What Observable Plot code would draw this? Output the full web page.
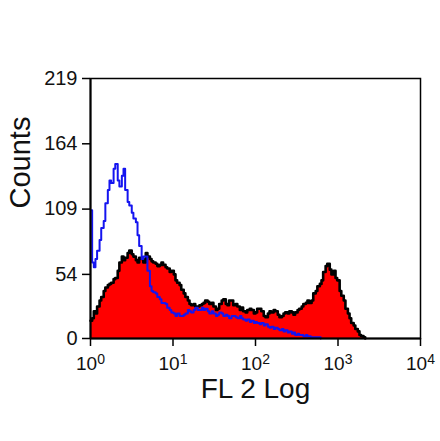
<!DOCTYPE html>
<html>
<head>
<meta charset="utf-8">
<script src="https://cdn.jsdelivr.net/npm/d3@7"></script>
<script src="https://cdn.jsdelivr.net/npm/@observablehq/plot@0.6"></script>
<style>
  html, body { margin: 0; padding: 0; background: #fff; }
  #chart { width: 440px; height: 441px; }
</style>
</head>
<body>
<div id="chart"></div>
<script>
// x in decades (log10 of FL 2), y in counts
const redX = [0.00,0.02,0.04,0.06,0.08,0.11,0.13,0.16,0.18,0.21,0.23,0.25,0.28,0.30,0.33,0.35,0.38,0.40,0.42,0.45,0.47,0.50,0.52,0.55,0.57,0.59,0.62,0.64,0.67,0.69,0.72,0.74,0.76,0.79,0.81,0.84,0.86,0.88,0.91,0.93,0.96,0.98,1.01,1.03,1.05,1.08,1.10,1.13,1.15,1.18,1.20,1.22,1.25,1.27,1.30,1.32,1.35,1.37,1.39,1.42,1.44,1.47,1.49,1.52,1.54,1.56,1.59,1.61,1.64,1.66,1.68,1.71,1.73,1.76,1.78,1.81,1.83,1.85,1.88,1.90,1.93,1.95,1.98,2.00,2.02,2.05,2.07,2.10,2.12,2.15,2.17,2.19,2.22,2.24,2.27,2.29,2.32,2.34,2.36,2.39,2.41,2.44,2.46,2.48,2.51,2.53,2.56,2.58,2.61,2.63,2.65,2.68,2.70,2.73,2.75,2.78,2.80,2.82,2.85,2.87,2.90,2.92,2.95,2.97,2.99,3.02,3.04,3.07,3.09,3.12,3.14,3.16,3.19,3.21,3.24,3.26,3.28,3.31,3.33];
const redY = [15,17,23,21,27,32,35,40,43,45,46,47,50,51,57,64,69,66,68,72,74,71,69,66,64,68,67,64,72,69,67,65,64,63,61,62,64,62,60,59,56,57,54,49,47,45,41,38,35,32,29,28,29,27,27,28,29,30,32,31,29,30,27,24,25,29,32,33,29,28,32,32,28,29,27,24,26,23,22,24,25,24,21,22,25,25,23,19,18,21,23,22,24,23,20,18,19,21,22,21,23,22,20,22,24,25,27,29,30,32,30,32,38,40,44,46,49,56,61,63,58,54,57,51,49,40,36,32,25,21,17,13,11,8,6,3,2,1,0];

const blueX = [0.01,0.02,0.04,0.06,0.08,0.11,0.13,0.16,0.18,0.21,0.23,0.25,0.28,0.30,0.33,0.35,0.38,0.40,0.42,0.45,0.47,0.50,0.52,0.55,0.57,0.59,0.62,0.64,0.67,0.69,0.72,0.74,0.76,0.79,0.81,0.84,0.86,0.88,0.91,0.93,0.96,0.98,1.01,1.03,1.05,1.08,1.10,1.13,1.15,1.18,1.20,1.22,1.25,1.27,1.30,1.32,1.35,1.37,1.39,1.42,1.44,1.47,1.49,1.52,1.54,1.56,1.59,1.61,1.64,1.66,1.68,1.71,1.73,1.76,1.78,1.81,1.83,1.85,1.88,1.90,1.93,1.95,1.98,2.00,2.02,2.05,2.07,2.10,2.12,2.15,2.17,2.19,2.22,2.24,2.27,2.29,2.32,2.34,2.36,2.39,2.41,2.44,2.46,2.48,2.51,2.53,2.56,2.58,2.61,2.63,2.67,2.73,2.79];
const blueY = [108,64,60,67,74,83,93,99,114,125,133,131,143,147,133,128,137,143,125,115,112,106,101,98,87,78,67,69,69,57,44,40,39,38,35,33,30,30,29,26,24,22,21,19,21,19,19,20,21,24,23,22,24,26,24,24,26,24,25,23,21,23,21,19,20,22,21,19,20,19,17,19,19,18,17,19,17,16,15,16,14,15,13,14,13,12,13,11,12,10,9,10,8,9,8,7,8,6,7,5,6,4,5,3,4,3,3,2,3,2,1,1,0];

const yTicks = [0, 54, 109, 164, 219];
const xTicks = [0, 1, 2, 3, 4];
const xTickExp = ["0", "1", "2", "3", "4"];
const xLabel = "FL 2 Log";
const yLabel = "Counts";

const red = redX.map((x, i) => ({x, y: redY[i]}));
const blue = blueX.map((x, i) => ({x, y: blueY[i]}));

const chart = Plot.plot({
  width: 440,
  height: 441,
  marginLeft: 90,
  marginRight: 20,
  marginTop: 78,
  marginBottom: 103,
  style: {fontFamily: "'Liberation Sans', Arial, sans-serif", background: "#fff", color: "#000"},
  x: {domain: [0, 4], label: null},
  y: {domain: [0, 219], label: null},
  marks: [
    Plot.areaY(red, {x: "x", y: "y", curve: "step-after", fill: "#ff0000"}),
    Plot.lineY(red, {x: "x", y: "y", curve: "step-after", stroke: "#000", strokeWidth: 2.6}),
    Plot.lineY(blue, {x: "x", y: "y", curve: "step-after", stroke: "#1414f0", strokeWidth: 2}),
    Plot.frame({stroke: "#000", strokeWidth: 1.5}),
    Plot.ruleX([0], {stroke: "#000", strokeWidth: 2}),
    Plot.ruleY([0], {stroke: "#000", strokeWidth: 2}),
    Plot.axisY({ticks: yTicks, tickSize: 8, tickPadding: 5, fontSize: 20, tickFormat: d => String(d), stroke: "#000", strokeWidth: 1.5, fill: "#111"}),
    Plot.axisX({ticks: xTicks, tickSize: 8, tickPadding: 10, fontSize: 19, tickFormat: d => "10" + xTickExp[d], stroke: "#000", strokeWidth: 1.5, fill: "#111"}),
    Plot.text([xLabel], {frameAnchor: "bottom", dy: 51, fontSize: 28, fill: "#111", lineAnchor: "middle"}),
    Plot.text([yLabel], {frameAnchor: "left", dx: -70, rotate: -90, fontSize: 29, fill: "#111", lineAnchor: "middle"})
  ]
});
document.getElementById("chart").appendChild(chart);

// Render the exponent as a superscript
d3.select(chart).selectAll('g[aria-label="x-axis tick label"] text').each(function() {
  const t = d3.select(this);
  const txt = t.text();
  const exp = txt.slice(2);
  t.text(null);
  t.append("tspan").text("10");
  t.append("tspan").attr("dy", "-0.45em").attr("font-size", 14).text(exp);
});
</script>
</body>
</html>
